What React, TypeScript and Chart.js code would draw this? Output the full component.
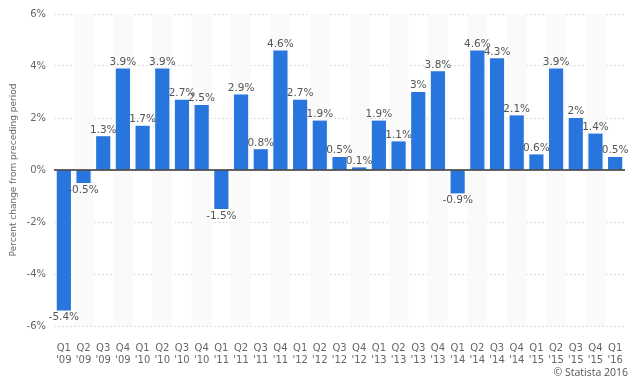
import React, { useEffect, useRef } from "react";
import { Chart, registerables } from "chart.js";

Chart.register(...registerables);

const quarters = ["Q1","Q2","Q3","Q4","Q1","Q2","Q3","Q4","Q1","Q2","Q3","Q4","Q1","Q2","Q3","Q4","Q1","Q2","Q3","Q4","Q1","Q2","Q3","Q4","Q1","Q2","Q3","Q4","Q1"];
const years = ["'09","'09","'09","'09","'10","'10","'10","'10","'11","'11","'11","'11","'12","'12","'12","'12","'13","'13","'13","'13","'14","'14","'14","'14","'15","'15","'15","'15","'16"];
const gdpChange = [-5.4,-0.5,1.3,3.9,1.7,3.9,2.7,2.5,-1.5,2.9,0.8,4.6,2.7,1.9,0.5,0.1,1.9,1.1,3,3.8,-0.9,4.6,4.3,2.1,0.6,3.9,2,1.4,0.5];
const yTicks = [-6,-4,-2,0,2,4,6];

const FONT = "'DejaVu Sans', Verdana, sans-serif";

const bandsPlugin = {
  id: "bands",
  beforeDatasetsDraw(chart: any) {
    const { ctx, chartArea, scales } = chart;
    const x = scales.x;
    const n = gdpChange.length;
    const w = (chartArea.right - chartArea.left) / n;
    ctx.save();
    ctx.fillStyle = "#fafafa";
    for (let i = 1; i < n; i += 2) {
      const cx = x.getPixelForValue(i);
      ctx.fillRect(cx - w / 2, chartArea.top, w, chartArea.bottom - chartArea.top);
    }
    ctx.restore();
  },
  afterDatasetsDraw(chart: any) {
    const { ctx, chartArea, scales } = chart;
    const y0 = scales.y.getPixelForValue(0);
    ctx.save();
    ctx.strokeStyle = "#333333";
    ctx.lineWidth = 1.5;
    ctx.beginPath();
    ctx.moveTo(chartArea.left, y0);
    ctx.lineTo(chartArea.right, y0);
    ctx.stroke();
    ctx.restore();
  },
};

const labelsPlugin = {
  id: "valueLabels",
  afterDatasetsDraw(chart: any) {
    const { ctx } = chart;
    const meta = chart.getDatasetMeta(0);
    ctx.save();
    ctx.font = "10.5px " + FONT;
    ctx.fillStyle = "#555555";
    ctx.textAlign = "center";
    meta.data.forEach((bar: any, i: number) => {
      const v = gdpChange[i];
      const txt = String(v) + "%";
      if (v >= 0) {
        ctx.textBaseline = "bottom";
        ctx.fillText(txt, bar.x, bar.y - 1);
      } else {
        ctx.textBaseline = "top";
        ctx.fillText(txt, bar.x, bar.y + 2);
      }
    });
    ctx.restore();
  },
};

const creditPlugin = {
  id: "credit",
  afterDraw(chart: any) {
    const { ctx } = chart;
    ctx.save();
    ctx.font = "10.5px 'Open Sans', " + FONT;
    ctx.fillStyle = "#555555";
    ctx.textAlign = "right";
    ctx.textBaseline = "middle";
    ctx.fillText("\u00A9 Statista 2016", 628, 373);
    ctx.restore();
  },
};

export default function App() {
  const ref = useRef<HTMLCanvasElement>(null);
  useEffect(() => {
    document.body.style.margin = "0";
    const chart = new Chart(ref.current!, {
      type: "bar",
      data: {
        labels: quarters.map((q, i) => [q, years[i]]),
        datasets: [
          {
            data: gdpChange,
            backgroundColor: "#2876dd",
            borderColor: "#2876dd",
            barPercentage: 0.72,
            categoryPercentage: 1,
          },
        ],
      },
      options: {
        animation: false,
        responsive: false,
        maintainAspectRatio: false,
        layout: { padding: { top: 14, right: 15, left: 8, bottom: 0 } },
        plugins: { legend: { display: false }, tooltip: { enabled: false } },
        scales: {
          x: {
            grid: { display: false },
            border: { display: false },
            ticks: {
              color: "#666666",
              font: { family: FONT, size: 10 },
              maxRotation: 0,
              autoSkip: false,
              padding: 8,
            },
            afterFit(scale: any) {
              scale.height = 56;
            },
          },
          y: {
            min: -6,
            max: 6,
            afterBuildTicks(scale: any) {
              scale.ticks = yTicks.map((v) => ({ value: v }));
            },
            grid: { color: "#dddddd", lineWidth: 1, drawTicks: false },
            border: { display: false, dash: [2, 2] },
            ticks: {
              color: "#666666",
              font: { family: FONT, size: 10 },
              padding: 8,
              callback: (v: any) => v + "%",
            },
            title: {
              display: true,
              text: "Percent change from preceding period",
              color: "#666666",
              font: { family: FONT, size: 9 },
              padding: { top: 0, bottom: 4 },
            },
            afterFit(scale: any) {
              scale.width = 46;
            },
          },
        },
      },
      plugins: [bandsPlugin, labelsPlugin, creditPlugin],
    } as any);
    return () => chart.destroy();
  }, []);
  return (
    <div style={{ position: "fixed", left: 0, top: 0, width: 640, height: 382 }}>
      <canvas ref={ref} width={640} height={382} style={{ width: 640, height: 382 }} />
    </div>
  );
}
